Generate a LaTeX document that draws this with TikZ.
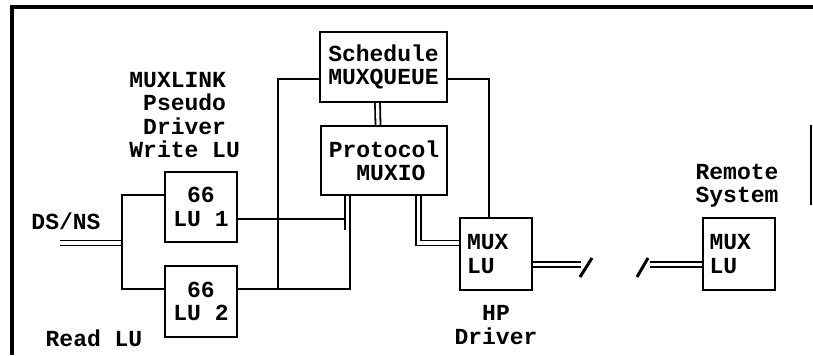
\documentclass[tikz,border=0pt]{standalone}
\usepackage{fontspec}
\setmonofont{Liberation Mono}
\usetikzlibrary{calc}
\begin{document}
\begin{tikzpicture}[x=0.5pt,y=-0.5pt,
  every node/.style={font=\fontsize{11.5}{11.7}\selectfont\ttfamily\bfseries},
  box/.style={draw,line width=1pt,inner sep=0pt,align=center},
  mbox/.style={draw,line width=1pt,inner sep=0pt,minimum width=36pt,minimum height=36pt,text width=29pt,align=left},
  wire/.style={line width=1pt},
  dbl/.style={double,line width=0.9pt,double distance=1.6pt},
  slashln/.style={line width=1.5pt},
  lbl/.style={inner sep=0pt},
  frameln/.style={line width=2.2pt}]
\useasboundingbox (0,0) rectangle (813,355);
% frame
\draw[frameln] (813,7) -- (12,7) -- (12,355);
\draw[line width=1pt] (811,125) -- (811,205);
% boxes
\node[box,minimum width=63.5pt,minimum height=35pt] (sched) at (383.5,67) {Schedule\\MUXQUEUE};
\node[box,minimum width=63pt,minimum height=34.5pt] (proto) at (384,160.5) {Protocol\\\hphantom{M}MUXIO};
\node[box,minimum width=36pt,minimum height=35pt] (lu1) at (201,207) {66\\LU 1};
\node[box,minimum width=36pt,minimum height=35.5pt] (lu2) at (201,301.5) {66\\LU 2};
\node[mbox] (hpmux) at (496,254) {MUX\\LU};
\node[mbox] (rmux) at (738.5,254) {MUX\\LU};
% labels
\node[lbl,anchor=west,align=left] (muxlink) at (129,115) {MUXLINK\\\hphantom{M}Pseudo\\\hphantom{M}Driver\\Write LU};
\node[lbl] (dsns) at (66,221) {DS/NS};
\node[lbl] (readlu) at (94,338) {Read LU};
\node[lbl,align=center] (hpdrv) at (496,325) {HP\\Driver};
\node[lbl,align=center] (remote) at (737,186) {Remote\\System};
% coordinates
\coordinate (dsin) at (60,243);
\coordinate (busT) at (122,195);
\coordinate (busB) at (122,289);
\coordinate (busM) at (122,243);
\coordinate (j1) at (344,219);
\coordinate (j2) at (350,289);
\coordinate (j3) at (350,230);
\coordinate (pstubL) at (347.5,230);
\coordinate (j4) at (418.5,243);
\coordinate (j5) at (489,79);
\coordinate (j6) at (278,79);
\coordinate (brkA) at (581,264.5);
\coordinate (brkB) at (650,264.5);
% connectors
\draw[dbl] ($(sched.south)+(-6,0)$) -- ($(proto.north)+(-6,0)$);
\draw[dbl] (dsin) -- (busM);
\draw[wire] (lu1.west |- busT) -- (busT) -- (busB) -- (lu2.west |- busB);
\draw[wire] (sched.west |- j6) -- (j6) -- (j6 |- busB);
\draw[wire] (sched.east |- j5) -| (hpmux.north -| j5);
\draw[dbl] (proto.south -| pstubL) -- (pstubL);
\draw[wire] (lu1.east |- j1) -- (j1);
\draw[wire] (lu2.east |- j2) -- (j2) -- (j3);
\draw[dbl] (proto.south -| j4) -- (j4) -- (hpmux.west |- j4);
\draw[dbl] (hpmux.east |- brkA) -- (brkA);
\draw[slashln] ($(brkA)+(-1,12.5)$) -- ($(brkA)+(11,-6.5)$);
\draw[dbl] (brkB) -- (rmux.west |- brkB);
\draw[slashln] ($(brkB)+(-13,12.5)$) -- ($(brkB)+(-2,-6.5)$);
\end{tikzpicture}
\end{document}
